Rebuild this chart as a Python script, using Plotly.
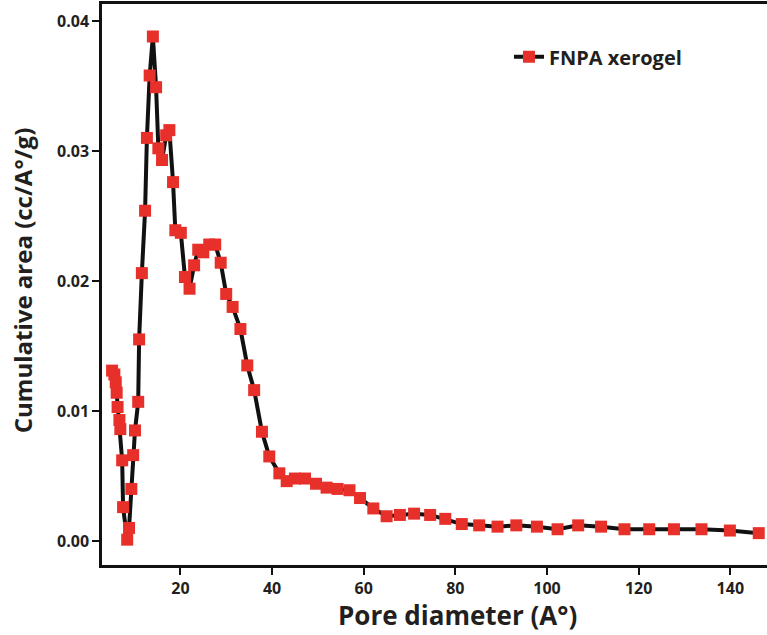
import plotly.graph_objects as go

pore_diameter = [5.1, 5.6, 5.9, 6.1, 6.3, 6.7, 6.9, 7.3, 7.5, 8.4, 8.8, 9.3, 9.7, 10.1, 10.8,
                 11.0, 11.6, 12.3, 12.7, 13.3, 14.0, 14.7, 15.2, 16.0, 16.9, 17.6, 18.4,
                 18.9, 20.1, 21.0, 22.0, 23.0, 23.9, 25.0, 26.3, 27.6, 28.8, 30.0, 31.4,
                 33.1, 34.6, 36.1, 37.8, 39.4, 41.6, 43.2, 45.0, 47.2, 49.6, 51.9, 54.3,
                 56.9, 59.2, 62.1, 65.0, 67.9, 71.0, 74.5, 77.8, 81.4, 85.2, 89.2, 93.3,
                 97.8, 102.3, 106.8, 111.8, 116.9, 122.3, 127.7, 133.7, 139.9, 146.2]
cumulative_area = [0.0131, 0.0128, 0.0122, 0.0114, 0.0103, 0.0093, 0.0086, 0.0062, 0.0026,
                   0.0001, 0.0010, 0.0040, 0.0066, 0.0085, 0.0107,
                   0.0155, 0.0206, 0.0254, 0.0310, 0.0358, 0.0388, 0.0349, 0.0302, 0.0293,
                   0.0312, 0.0316, 0.0276,
                   0.0239, 0.0237, 0.0203, 0.0194, 0.0212, 0.0224, 0.0222, 0.0228, 0.0228,
                   0.0214, 0.0190, 0.0180,
                   0.0163, 0.0135, 0.0116, 0.0084, 0.0065, 0.0052, 0.0046, 0.0048, 0.0048,
                   0.0044, 0.0041, 0.0040,
                   0.0039, 0.0033, 0.0025, 0.0019, 0.0020, 0.0021, 0.0020, 0.0017, 0.0013,
                   0.0012, 0.0011, 0.0012,
                   0.0011, 0.0009, 0.0012, 0.0011, 0.0009, 0.0009, 0.0009, 0.0009, 0.0008, 0.0006]

x_ticks = [20, 40, 60, 80, 100, 120, 140]
y_ticks = [0.00, 0.01, 0.02, 0.03, 0.04]

FONT = "Open Sans"
TXT = "#231f20"

fig = go.Figure()
fig.add_trace(go.Scatter(
    x=pore_diameter, y=cumulative_area, mode="lines+markers", name="<b>FNPA xerogel</b>",
    line=dict(color="#111111", width=4),
    marker=dict(symbol="square", size=12, color="#e8302a", line=dict(width=0)),
))

fig.update_layout(
    width=767, height=635,
    margin=dict(l=102, r=0, t=4, b=70),
    paper_bgcolor="white", plot_bgcolor="white",
    font=dict(family=FONT, color=TXT),
    showlegend=True,
    legend=dict(x=0.612, y=0.906, xanchor="left", yanchor="middle",
                font=dict(family=FONT, size=20, color=TXT),
                bgcolor="rgba(0,0,0,0)"),
    xaxis=dict(
        range=[2.9, 148], tickvals=x_ticks, ticks="outside", ticklen=7, tickwidth=2,
        tickcolor="#111", showline=True, linecolor="#111", linewidth=2.5, mirror=True,
        showgrid=False, zeroline=False, automargin=False,
        tickfont=dict(family=FONT, size=16, color=TXT, weight="bold"),
    ),
    yaxis=dict(
        range=[-0.00185, 0.0413], tickvals=y_ticks, tickformat=".2f", ticks="outside",
        ticklen=7, tickwidth=2, tickcolor="#111", showline=True, linecolor="#111",
        linewidth=2.5, mirror=False, showgrid=False, zeroline=False, automargin=False,
        tickfont=dict(family=FONT, size=16, color=TXT, weight="bold"),
    ),
    annotations=[
        dict(text="<b>Pore diameter (A°)</b>", xref="paper", yref="paper",
             x=0.535, y=-0.089, xanchor="center", yanchor="middle", showarrow=False,
             font=dict(family=FONT, size=26, color=TXT)),
        dict(text="<b>Cumulative area (cc/A°/g)</b>", xref="paper", yref="paper",
             x=-0.12, y=0.508, xanchor="center", yanchor="middle", showarrow=False,
             textangle=-90, font=dict(family=FONT, size=24, color=TXT)),
    ],
)

fig.write_html("out.html", config={"displayModeBar": False},
               post_script="document.body.style.margin='0';")
